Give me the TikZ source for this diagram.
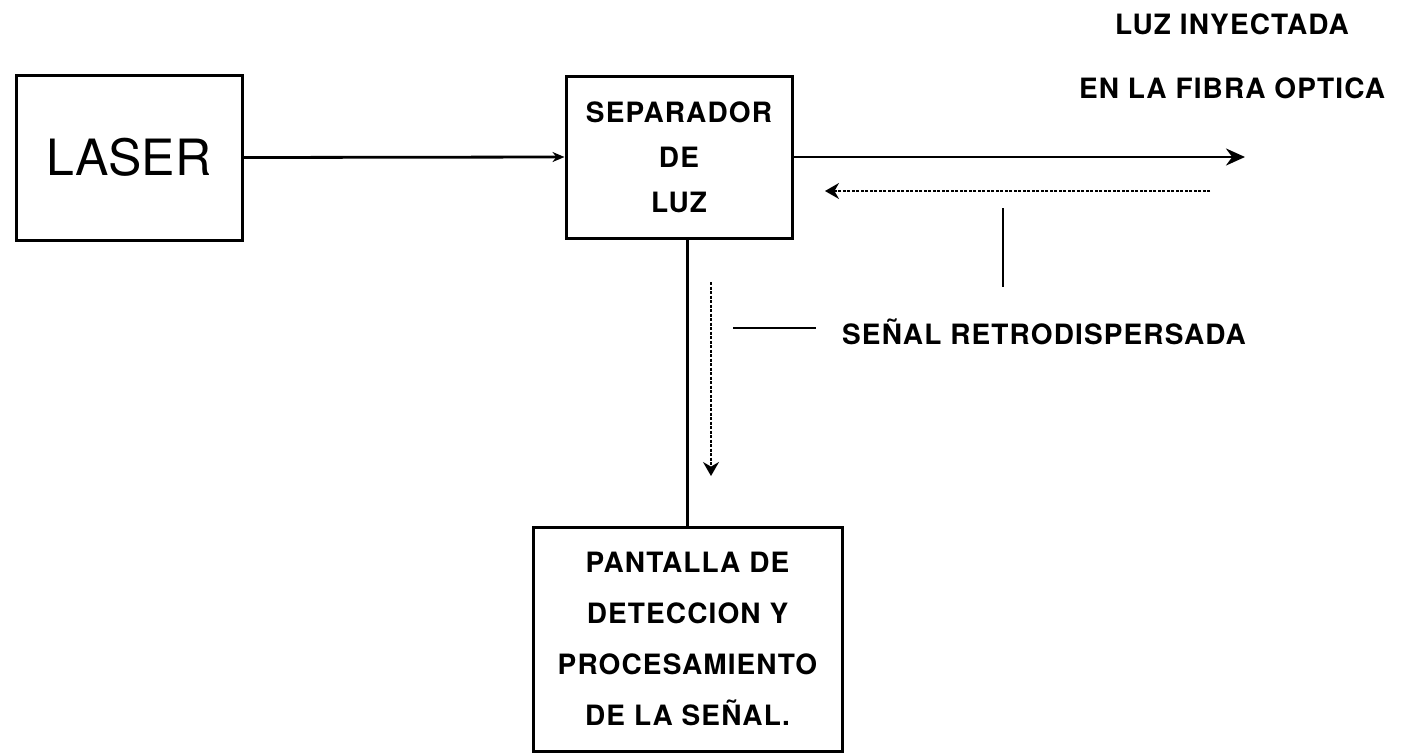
\documentclass[tikz,border=0pt]{standalone}
\usepackage{fontspec}
\setmainfont{TeX Gyre Heros}
\newfontfamily\lblfont{TeX Gyre Heros}[LetterSpace=4]
\usetikzlibrary{arrows.meta,positioning,calc}
\tikzset{
  >={Stealth[length=12pt,width=10pt]},
  every node/.style={font=\lblfont\bfseries\fontsize{28}{45}\selectfont},
  blk/.style={draw=black,line width=3pt,fill=white,align=center,inner sep=0pt},
  flow/.style={->,line width=2.8pt},
  bigflow/.style={-{Stealth[length=19pt,width=17pt]},line width=2.8pt},
  back/.style={-{Stealth[length=14pt,width=16pt]},line width=1.4pt,dash pattern=on 3pt off 1.5pt},
  ptr/.style={line width=2.8pt},
  lbl/.style={inner sep=0pt,align=center},
}
\begin{document}
\begin{tikzpicture}[x=1pt,y=-1pt]
  \useasboundingbox[fill=white] (0,0) rectangle (1401,753);

  % blocks
  \node[blk,minimum width=226pt,minimum height=165pt,font=\fontsize{50}{50}\selectfont]
    (laser) at (129,157.5) {LASER};
  \node[blk,minimum width=226pt,minimum height=162pt] (sep) at (679,157)
    {SEPARADOR\\DE\\LUZ};
  \node[blk,minimum width=309pt,minimum height=224pt,font=\lblfont\bfseries\fontsize{28}{51}\selectfont]
    (pant) at (687.5,639) {PANTALLA DE\\DETECCION Y\\PROCESAMIENTO\\DE LA SE\~NAL.};

  % labels
  \node[lbl,font=\lblfont\bfseries\fontsize{28}{64}\selectfont] (fibra) at (1232,56)
    {LUZ INYECTADA\\EN LA FIBRA OPTICA};
  \node[lbl,anchor=west] (retro) at (842,332) {SE\~NAL RETRODISPERSADA};

  % free ends
  \coordinate (out) at (1245,157);
  \coordinate (bk1) at (1210,191);
  \coordinate (bk2) at (825,191);
  \coordinate (dn1) at (711,282);
  \coordinate (dn2) at (711,476);
  \coordinate (pv1) at (1003,208);
  \coordinate (pv2) at (1003,287);
  \coordinate (ph1) at (733,328);
  \coordinate (ph2) at (816,328);

  % light path
  \draw[flow] (laser.east) -- (sep.west);
  \draw[bigflow] (sep.east |- out) -- (out);
  \draw[ptr] (pant.north |- sep.south) -- (pant.north);

  % backscattered signal
  \draw[back] (bk1) -- (bk2);
  \draw[back] (dn1) -- (dn2);
  \draw[ptr] (pv1) -- (pv2);
  \draw[ptr] (ph1) -- (ph2);
\end{tikzpicture}
\end{document}
